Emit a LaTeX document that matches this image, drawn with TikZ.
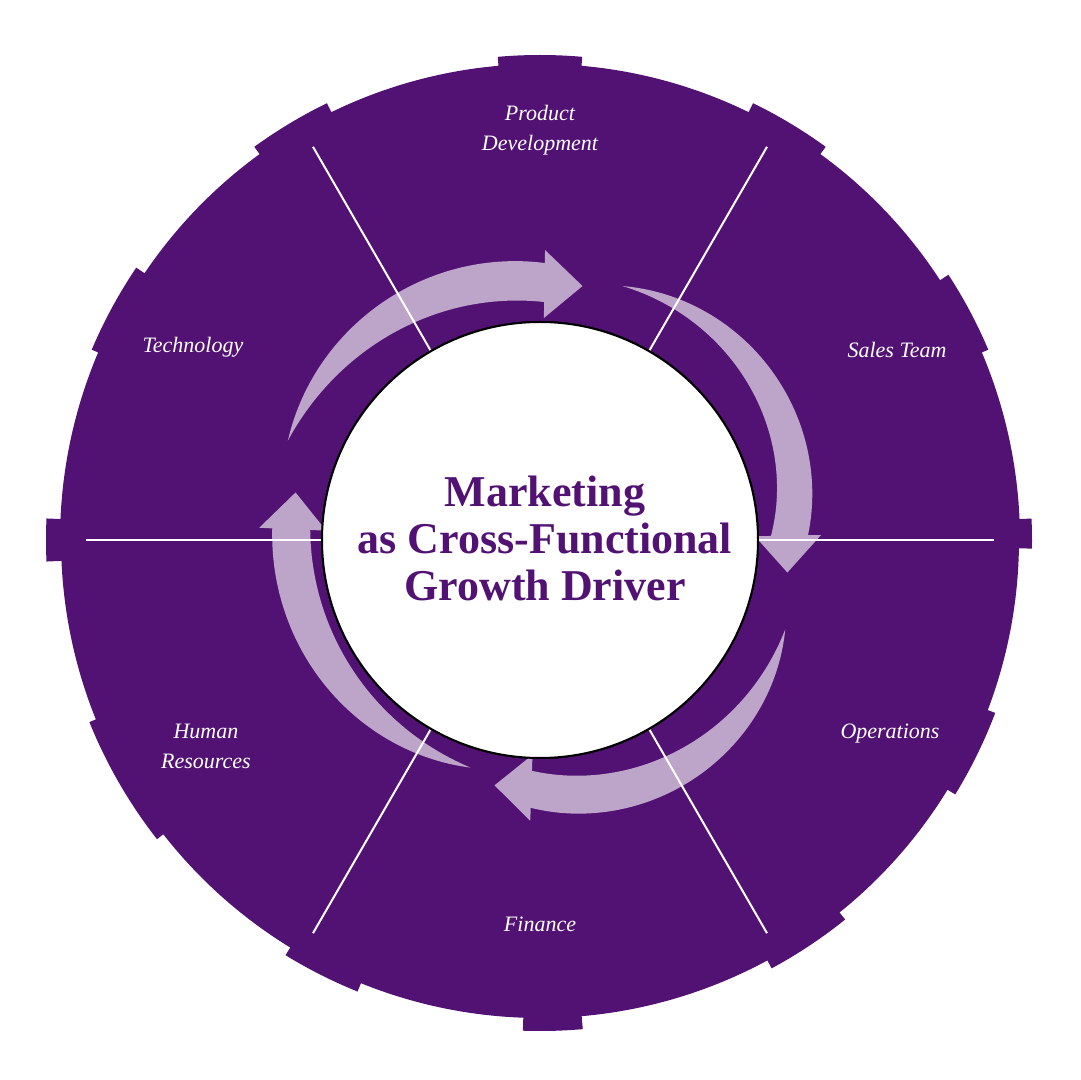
\documentclass[tikz,border=0pt]{standalone}
\usepackage{fontspec}
\setmainfont{Liberation Serif}
\definecolor{deep}{RGB}{82,18,115}
% #1 tail angle, #2 head-base angle, #3 tail radius,
% #4 outer mid radius, #5 outer head radius, #6 inner mid radius, #7 inner head radius
\newcommand\cyclearrow[7]{%
  \pgfmathsetmacro\tmid{(#1+#2)/2}%
  \pgfmathsetmacro\tdel{(#2-#1)/2}%
  \pgfmathsetmacro\hob{#5+13}%
  \pgfmathsetmacro\hib{#7-16}%
  \pgfmathsetmacro\tipr{(#5+#7)/2}%
  \pgfmathsetmacro\tipa{#2-8.5}%
  \fill[arr] plot[domain=-1:1,samples=60,variable=\u]
      ({\tmid+\u*\tdel}:{#4+(#5-#3)/2*\u+((#5+#3)/2-#4)*\u*\u})
    -- (#2:\hob) -- (\tipa:\tipr) -- (#2:\hib)
    -- plot[domain=-1:1,samples=60,variable=\u]
      ({\tmid-\u*\tdel}:{#6-(#7-#3)/2*\u+((#7+#3)/2-#6)*\u*\u})
    -- cycle;}
\begin{document}
\begin{tikzpicture}[x=0.5pt,y=0.5pt,
  lab/.style={text=white,font=\fontsize{11}{15}\selectfont\itshape,align=center},
  ttl/.style={text=deep,font=\fontsize{22}{23.5}\selectfont\bfseries,align=center},
  spoke/.style={white,line width=1pt},
  arr/.style={fill=white,fill opacity=0.62},
  hubstyle/.style={circle,fill=white,draw=black,line width=1pt,minimum size=218pt,inner sep=0pt}]
\useasboundingbox (-540,-540) rectangle (540,540);
% stepped outer disc
\fill[deep] (-1:492)
  \foreach \a/\b/\r in {-1/2.5/492, 2.5/23/480, 23/33/487, 33/54/477, 54/64/486, 64/85/476,
    85/95/485, 95/116/476, 116/126/486, 126/146/477, 146/157/487, 157/177.5/480,
    177.5/182.5/494, 182.5/202/479, 202/218/486, 218/238.5/478, 238.5/248/487,
    248/268/478, 268/275/491, 275/298.4/478, 298.4/308.8/487, 308.8/328.5/478,
    328.5/339.2/487, 339.2/359/479}
  { -- (\a:\r) arc[start angle=\a, end angle=\b, radius=\r] } -- cycle;
\node[hubstyle] (hub) at (0,0) {};
\foreach \a in {0,60,120,180,240,300}{
  \coordinate (s\a) at (\a:454);
  \draw[spoke] (hub.\a) -- (s\a);
}
% four curved arrows
\cyclearrow{158.5}{89}{271}{285}{277}{253}{238}
\cyclearrow{72}{1}{267}{287}{268}{260}{231}
\cyclearrow{-20}{-92}{261}{284}{268}{252}{231}
\cyclearrow{253}{177.5}{238}{259}{268}{228}{230}
\node[hubstyle] (hubtop) at (0,0) {};
\begin{scope}[shift={(-540,540)},yscale=-1]
\node[ttl] (core) at (545,538) {Marketing\\as Cross-Functional\\Growth Driver};
\node[lab] (pd) at (540,130) {Product\\Development};
\node[lab] (st) at (897,350) {Sales Team};
\node[lab] (op) at (890,734) {Operations};
\node[lab] (fi) at (540,924) {Finance};
\node[lab] (hr) at (206,746) {Human\\Resources};
\node[lab] (te) at (193,347) {Technology};
\end{scope}
\end{tikzpicture}
\end{document}
